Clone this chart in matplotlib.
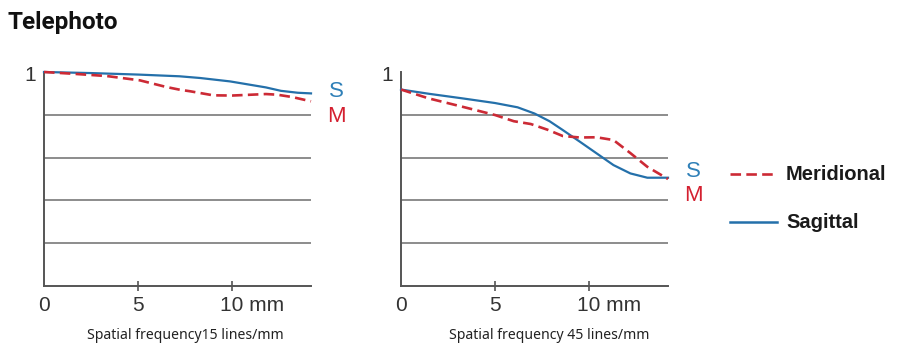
import matplotlib
matplotlib.use("Agg")
import matplotlib.pyplot as plt

# spatial frequency 15 lines/mm
s15_x = [0, 2.5, 5.0, 7.2, 8.3, 9.9, 11.8, 12.6, 13.5, 14.2]
s15_y = [1.0, 0.995, 0.988, 0.98, 0.972, 0.956, 0.928, 0.912, 0.903, 0.90]
m15_x = [0, 1.5, 3.35, 5.1, 6.5, 7.23, 7.77, 9.0, 10.0, 10.8, 11.8, 12.4, 13.2, 14.2]
m15_y = [1.0, 0.992, 0.981, 0.961, 0.93, 0.917, 0.91, 0.891, 0.89, 0.893, 0.897, 0.894, 0.883, 0.863]

# spatial frequency 45 lines/mm
s45_x = [0, 1.5, 3.25, 5.0, 6.2, 7.1, 7.9, 8.6, 9.5, 10.4, 11.3, 12.2, 13.1, 14.2]
s45_y = [0.918, 0.898, 0.877, 0.855, 0.835, 0.806, 0.77, 0.729, 0.675, 0.62, 0.565, 0.526, 0.506, 0.506]
m45_x = [0, 1.46, 3.25, 5.0, 6.0, 6.9, 7.8, 8.6, 9.5, 10.4, 11.3, 12.2, 13.1, 14.2]
m45_y = [0.918, 0.877, 0.838, 0.799, 0.77, 0.757, 0.73, 0.701, 0.694, 0.695, 0.682, 0.621, 0.557, 0.50]

grid_y = [0.2, 0.4, 0.6, 0.8]
xticks = [0, 5, 10]
xlabels = ["0", "5", "10 mm"]
titles = ["Spatial frequency15 lines/mm", "Spatial frequency 45 lines/mm"]

blue = "#2470aa"
red = "#cc2a35"
XMAX = 14.2

fig = plt.figure(figsize=(9, 3.54), dpi=100)
fig.text(8 / 900, 1 - 23 / 354, "Telephoto", fontsize=17.5, fontweight="bold",
         family="Roboto", va="center", ha="left", color="#111")

panels = [
    (44, s15_x, s15_y, m15_x, m15_y, (0.907, 0.79)),
    (401, s45_x, s45_y, m45_x, m45_y, (0.533, 0.425)),
]
for i, (left, sx, sy, mx, my, sm_y) in enumerate(panels):
    ax = fig.add_axes([left / 900, 68 / 354, 267 / 900, 214 / 354])
    ax.set_xlim(0, XMAX)
    ax.set_ylim(0, 1)
    for g in grid_y:
        ax.axhline(g, color="#6e6e6e", lw=1.1, zorder=1)
    ax.plot(sx, sy, color=blue, lw=1.6, zorder=3, clip_on=False)
    ax.plot(mx, my, color=red, lw=1.9, ls=(0, (4, 2)), zorder=4, clip_on=False)
    for s in ["top", "right"]:
        ax.spines[s].set_visible(False)
    for s in ["left", "bottom"]:
        ax.spines[s].set_color("#555")
        ax.spines[s].set_linewidth(1.4)
    ax.set_yticks([])
    ax.set_xticks([5, 10])
    ax.tick_params(axis="x", direction="inout", length=7, width=1.2, color="#555",
                   labelbottom=False)
    for t, lab in zip(xticks, xlabels):
        ax.text(t - (0.65 if lab.startswith("10") else 0), -0.09, lab,
                ha="left" if lab.startswith("10") else "center", va="center",
                fontsize=15, family="Liberation Sans", color="#333")
    ax.text(-0.75, 0.985, "1", ha="center", va="center", fontsize=15,
            family="Liberation Sans", color="#333")
    ax.text(XMAX + 1.35, sm_y[0], "S", ha="center", va="center", fontsize=16,
            family="Liberation Sans", color="#2f80b8", clip_on=False)
    ax.text(XMAX + 1.35, sm_y[1], "M", ha="center", va="center", fontsize=16,
            family="Liberation Sans", color="#d42030", clip_on=False)
    ax.text(XMAX / 2 + (0.4 if i == 0 else 0.8), -0.23, titles[i], ha="center", va="center",
            fontsize=10.1, family="Noto Sans", color="#222")

# legend drawn as lines in a free axes
lax = fig.add_axes([0, 0, 1, 1], facecolor="none")
lax.set_xlim(0, 900)
lax.set_ylim(354, 0)
lax.axis("off")
lax.plot([730, 777], [174, 174], color=red, lw=1.9, ls=(0, (4, 2)))
lax.plot([730, 777], [222, 222], color=blue, lw=1.8)
lax.text(786, 174, "Meridional", fontsize=14.5, fontweight="bold",
         family="Liberation Sans", color="#1a1a1a", va="center", ha="left")
lax.text(786, 222, "Sagittal", fontsize=14.5, fontweight="bold",
         family="Liberation Sans", color="#1a1a1a", va="center", ha="left")

fig.savefig("out.png", dpi=100)
